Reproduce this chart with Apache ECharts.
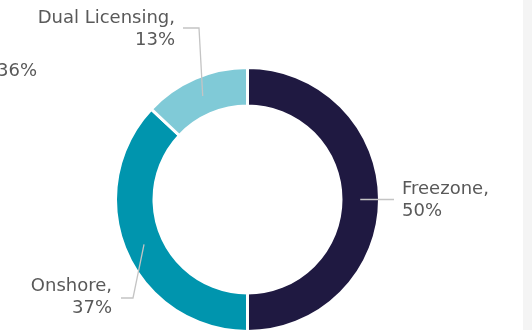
<!DOCTYPE html>
<html>
<head>
<meta charset="utf-8">
<script src="https://cdn.jsdelivr.net/npm/echarts@6/dist/echarts.min.js"></script>
<style>
  html, body { margin: 0; padding: 0; background: #ffffff; }
  #chart { width: 532px; height: 330px; }
</style>
</head>
<body>
<div id="chart"></div>
<script>
// Licence types and their share of companies (%)
var categories = ['Freezone', 'Onshore', 'Dual Licensing'];
var shares = [50, 37, 13];
// stray figure at the left edge
var sideNote = '36%';

var palette = ['#1f1941', '#0095ae', '#80cad7'];
var CX = 247.5, CY = 199.5, R_IN = 93.5, R_OUT = 132;
var FONT = '"DejaVu Sans", sans-serif';
var FONT_SIZE = 18;
var TEXT = '#595959';

// label block anchor and leader elbow for each slice
var labelSpots = {
  'Freezone':       { x: 402, y: 200.5, align: 'left',  elbow: [380, 199.5], end: [394, 199.5] },
  'Onshore':        { x: 112, y: 297,   align: 'right', elbow: [133, 298],   end: [121, 298] },
  'Dual Licensing': { x: 175, y: 29,    align: 'right', elbow: [199, 28],    end: [183, 28] }
};

var total = shares.reduce(function (a, b) { return a + b; }, 0);
// point in the middle of the ring at the slice's mid-angle
function ringMid(i) {
  var before = 0;
  for (var k = 0; k < i; k++) before += shares[k];
  var a = (before + shares[i] / 2) / total * Math.PI * 2;
  var r = (R_IN + R_OUT) / 2;
  return [CX + r * Math.sin(a), CY - r * Math.cos(a)];
}

var pieData = categories.map(function (c, i) {
  return { name: c, value: shares[i], itemStyle: { color: palette[i] } };
});

var base = {
  type: 'pie',
  center: [CX, CY],
  radius: [R_IN, R_OUT],
  startAngle: 90,
  clockwise: true,
  avoidLabelOverlap: false,
  silent: true
};

var chart = echarts.init(document.getElementById('chart'), null, { renderer: 'canvas' });
chart.setOption({
  animation: false,
  backgroundColor: '#ffffff',
  graphic: [
    { type: 'rect', shape: { x: 523, y: 0, width: 9, height: 330 }, style: { fill: '#f4f4f4' }, silent: true },
    { type: 'text', x: 37, y: 71, style: { text: sideNote, fill: TEXT, font: FONT_SIZE + 'px ' + FONT, textAlign: 'right', textVerticalAlign: 'middle' } }
  ],
  series: [
    // the ring itself
    Object.assign({}, base, {
      z: 2,
      itemStyle: { borderColor: '#ffffff', borderWidth: 3 },
      label: { show: false },
      labelLine: { show: false },
      data: pieData
    }),
    // labels and leaders drawn above the ring
    Object.assign({}, base, {
      z: 5,
      itemStyle: { color: 'rgba(0,0,0,0)', borderWidth: 0 },
      label: {
        show: true,
        formatter: '{b},\n{c}%',
        color: TEXT,
        fontFamily: FONT,
        fontSize: FONT_SIZE,
        lineHeight: 22
      },
      labelLine: { show: true, length: 10, length2: 10, lineStyle: { color: '#c4c4c4', width: 1.3 } },
      labelLayout: function (params) {
        var s = labelSpots[categories[params.dataIndex]];
        return {
          x: s.x, y: s.y, align: s.align, verticalAlign: 'middle',
          labelLinePoints: [ringMid(params.dataIndex), s.elbow, s.end]
        };
      },
      data: categories.map(function (c, i) { return { name: c, value: shares[i] }; })
    })
  ]
});
</script>
</body>
</html>
